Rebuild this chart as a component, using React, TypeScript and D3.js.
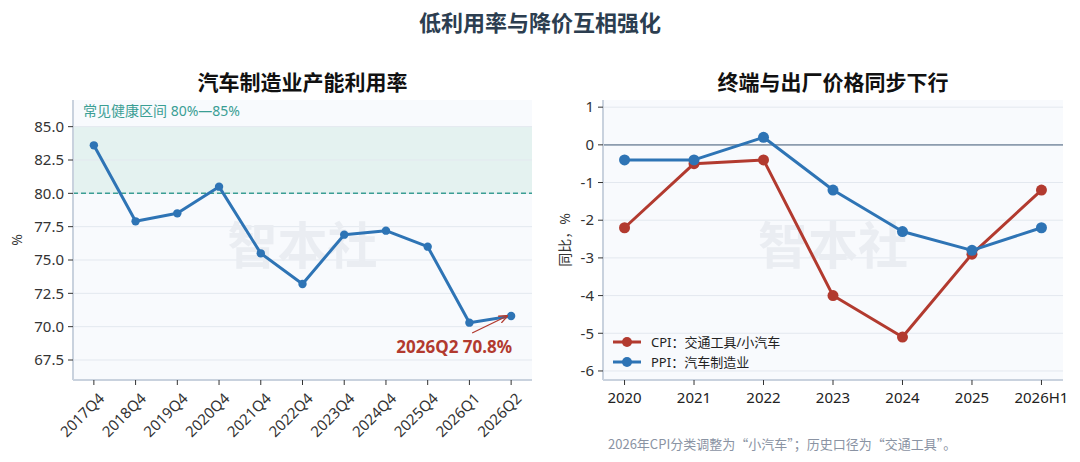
import React from "react";
import * as d3 from "d3";

const W = 1080;
const H = 462;
const FONT = "'Noto Sans', 'Noto Sans CJK SC', sans-serif";
const CJK = "'Noto Sans CJK SC', sans-serif";

// left panel data
const quarters = [
  "2017Q4", "2018Q4", "2019Q4", "2020Q4", "2021Q4", "2022Q4",
  "2023Q4", "2024Q4", "2025Q4", "2026Q1", "2026Q2",
];
const utilization = [83.6, 77.9, 78.5, 80.5, 75.5, 73.2, 76.9, 77.2, 76.0, 70.3, 70.8];
const utilTicks = [67.5, 70.0, 72.5, 75.0, 77.5, 80.0, 82.5, 85.0];
const healthBand = [80, 85];

// right panel data
const years = ["2020", "2021", "2022", "2023", "2024", "2025", "2026H1"];
const cpiCar = [-2.2, -0.5, -0.4, -4.0, -5.1, -2.9, -1.2];
const ppiCar = [-0.4, -0.4, 0.2, -1.2, -2.3, -2.8, -2.2];
const yoyTicks = [1, 0, -1, -2, -3, -4, -5, -6];

const BLUE = "#2e74b5";
const RED = "#b23a2f";
const TEAL = "#3a9e94";
const GRID = "#e3e8ef";
const AXIS = "#c9d2de";
const PLOT_BG = "#f8fafd";
const TICK_FS = 15;

const Watermark = ({ cx }: { cx: number }) => (
  <text x={cx} y={264} textAnchor="middle" fontSize={50} fontWeight="bold" fill="#eaedf2" fontFamily={CJK}>
    智本社
  </text>
);

const LeftPanel = () => {
  const x0 = 73, x1 = 532, y0 = 100, y1 = 380;
  const x = d3.scalePoint<string>().domain(quarters).range([x0, x1]).padding(0.5);
  const y = d3.scaleLinear().domain([66, 87]).range([y1, y0]);
  const line = d3
    .line<number>()
    .x((_, i) => x(quarters[i])!)
    .y((d) => y(d));
  const last = quarters.length - 1;
  const lx = x(quarters[last])!;
  const ly = y(utilization[last]);

  return (
    <g>
      <text x={(x0 + x1) / 2} y={90} textAnchor="middle" fontSize={21} fontWeight="bold" fill="#111">
        汽车制造业产能利用率
      </text>
      <rect x={x0} y={y0} width={x1 - x0} height={y1 - y0} fill={PLOT_BG} />
      <rect
        x={x0}
        y={y(healthBand[1])}
        width={x1 - x0}
        height={y(healthBand[0]) - y(healthBand[1])}
        fill="#e4f2f0"
      />
      {utilTicks.map((t) => (
        <line key={t} x1={x0} x2={x1} y1={y(t)} y2={y(t)} stroke={GRID} strokeWidth={1} />
      ))}
      <Watermark cx={(x0 + x1) / 2} />
      <line
        x1={x0}
        x2={x1}
        y1={y(healthBand[0])}
        y2={y(healthBand[0])}
        stroke={TEAL}
        strokeWidth={1.5}
        strokeDasharray="5,3"
      />
      <text x={x0 + 10} y={116} fontSize={14} fill={TEAL}>
        常见健康区间 80%—85%
      </text>
      <path d={line(utilization) ?? ""} fill="none" stroke={BLUE} strokeWidth={3} strokeLinejoin="round" />
      {utilization.map((v, i) => (
        <circle key={i} cx={x(quarters[i])} cy={y(v)} r={4.2} fill={BLUE} />
      ))}
      {/* annotation */}
      <defs>
        <marker id="arr" viewBox="0 0 10 10" refX="9" refY="5" markerWidth="7" markerHeight="7" orient="auto">
          <path d="M0,1 L10,5 L0,9" fill="none" stroke={RED} strokeWidth={1.5} />
        </marker>
      </defs>
      <line x1={lx - 39} y1={ly + 17} x2={lx - 4} y2={ly} stroke={RED} strokeWidth={1.3} markerEnd="url(#arr)" />
      <text x={lx + 1} y={ly + 37} textAnchor="end" fontSize={17} fontWeight="bold" fill={RED}>
        2026Q2 70.8%
      </text>
      {/* axes */}
      <line x1={x0} x2={x0} y1={y0} y2={y1} stroke={AXIS} strokeWidth={2} />
      <line x1={x0} x2={x1} y1={y1} y2={y1} stroke={AXIS} strokeWidth={2} />
      {utilTicks.map((t) => (
        <g key={t}>
          <line x1={x0 - 5} x2={x0} y1={y(t)} y2={y(t)} stroke="#333" />
          <text x={x0 - 9} y={y(t)} dy="0.35em" textAnchor="end" fontSize={TICK_FS} fill="#333">
            {t.toFixed(1)}
          </text>
        </g>
      ))}
      {quarters.map((q) => (
        <g key={q}>
          <line x1={x(q)} x2={x(q)} y1={y1} y2={y1 + 5} stroke="#333" />
          <text
            transform={`translate(${x(q)! + 4},${y1 + 12}) rotate(-45)`}
            textAnchor="end"
            dy="0.7em"
            fontSize={TICK_FS}
            fill="#333"
          >
            {q}
          </text>
        </g>
      ))}
      <text transform={`translate(22,${(y0 + y1) / 2}) rotate(-90)`} textAnchor="middle" fontSize={14} fill="#333">
        %
      </text>
    </g>
  );
};

const RightPanel = () => {
  const x0 = 603, x1 = 1063, y0 = 100, y1 = 380;
  const x = d3.scalePoint<string>().domain(years).range([x0, x1]).padding(0.31);
  const y = d3.scaleLinear().domain([-6.24, 1.19]).range([y1, y0]);
  const line = d3
    .line<number>()
    .x((_, i) => x(years[i])!)
    .y((d) => y(d));
  const series = [
    { name: "CPI：交通工具/小汽车", values: cpiCar, color: RED },
    { name: "PPI：汽车制造业", values: ppiCar, color: BLUE },
  ];

  return (
    <g>
      <text x={(x0 + x1) / 2} y={90} textAnchor="middle" fontSize={21} fontWeight="bold" fill="#111">
        终端与出厂价格同步下行
      </text>
      <rect x={x0} y={y0} width={x1 - x0} height={y1 - y0} fill={PLOT_BG} />
      {yoyTicks.map((t) => (
        <line key={t} x1={x0} x2={x1} y1={y(t)} y2={y(t)} stroke={GRID} strokeWidth={1} />
      ))}
      <Watermark cx={(x0 + x1) / 2} />
      <line x1={x0} x2={x1} y1={y(0)} y2={y(0)} stroke="#8d9cae" strokeWidth={1.6} />
      {series.map((s) => (
        <g key={s.name}>
          <path d={line(s.values) ?? ""} fill="none" stroke={s.color} strokeWidth={3} strokeLinejoin="round" />
          {s.values.map((v, i) => (
            <circle key={i} cx={x(years[i])} cy={y(v)} r={5.5} fill={s.color} />
          ))}
        </g>
      ))}
      {/* legend */}
      {series.map((s, i) => (
        <g key={s.name} transform={`translate(${x0 + 10},${342 + i * 20})`}>
          <line x1={0} x2={28} y1={0} y2={0} stroke={s.color} strokeWidth={3} />
          <circle cx={14} cy={0} r={5} fill={s.color} />
          <text x={38} y={0} dy="0.35em" fontSize={13} fill="#222">
            {s.name}
          </text>
        </g>
      ))}
      {/* axes */}
      <line x1={x0} x2={x0} y1={y0} y2={y1} stroke={AXIS} strokeWidth={2} />
      <line x1={x0} x2={x1} y1={y1} y2={y1} stroke={AXIS} strokeWidth={2} />
      {yoyTicks.map((t) => (
        <g key={t}>
          <line x1={x0 - 5} x2={x0} y1={y(t)} y2={y(t)} stroke="#333" />
          <text x={x0 - 9} y={y(t)} dy="0.35em" textAnchor="end" fontSize={TICK_FS} fill="#333">
            {t}
          </text>
        </g>
      ))}
      {years.map((yr) => (
        <g key={yr}>
          <line x1={x(yr)} x2={x(yr)} y1={y1} y2={y1 + 5} stroke="#333" />
          <text x={x(yr)} y={y1 + 23} textAnchor="middle" fontSize={TICK_FS} fill="#222">
            {yr}
          </text>
        </g>
      ))}
      <text transform={`translate(570,${(y0 + y1) / 2}) rotate(-90)`} textAnchor="middle" fontSize={14} fill="#333">
        同比，%
      </text>
      <text x={608} y={449} fontSize={13} fill="#8a93a3" fontFamily={CJK}>
        2026年CPI分类调整为“小汽车”；历史口径为“交通工具”。
      </text>
    </g>
  );
};

export default function App() {
  return (
    <svg width={W} height={H} style={{ display: "block", position: "absolute", left: 0, top: 0, fontFamily: FONT, background: "#fff" }}>
      <rect width={W} height={H} fill="#fff" />
      <text x={W / 2} y={31} textAnchor="middle" fontSize={22} fontWeight="bold" fill="#2c3e50">
        低利用率与降价互相强化
      </text>
      <LeftPanel />
      <RightPanel />
    </svg>
  );
}
